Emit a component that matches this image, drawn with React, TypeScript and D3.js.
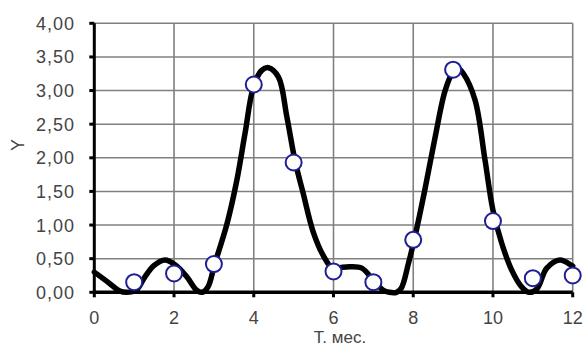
import React from "react";
import * as d3 from "d3";

const xTicks = [0, 2, 4, 6, 8, 10, 12];
const yTicks = [0, 0.5, 1, 1.5, 2, 2.5, 3, 3.5, 4];

const pointX = [1, 2, 3, 4, 5, 6, 7, 8, 9, 10, 11, 12];
const pointY = [0.15, 0.28, 0.42, 3.09, 1.93, 0.31, 0.15, 0.78, 3.31, 1.06, 0.21, 0.25];

const curveX = [0, 0.3, 0.64, 0.8, 1.05, 1.27, 1.5, 1.77, 2.05, 2.32, 2.57, 2.7, 2.85, 3.02, 3.32, 3.57, 3.78, 3.99, 4.2, 4.37, 4.62, 4.83, 5.03, 5.24, 5.49, 5.74, 5.99, 6.2, 6.41, 6.71, 7.0, 7.25, 7.4, 7.58, 7.7, 7.88, 8.04, 8.29, 8.55, 8.8, 9.0, 9.12, 9.26, 9.55, 9.8, 10.0, 10.22, 10.47, 10.72, 10.9, 11.1, 11.35, 11.68, 11.97, 12];
const curveY = [0.3, 0.17, 0.02, 0, 0.03, 0.23, 0.4, 0.48, 0.4, 0.23, 0.03, 0, 0.08, 0.42, 1.0, 1.65, 2.36, 3.05, 3.3, 3.34, 3.2, 2.61, 1.97, 1.47, 0.9, 0.55, 0.35, 0.37, 0.38, 0.36, 0.18, 0.03, 0, 0, 0.06, 0.43, 0.82, 1.52, 2.31, 3.0, 3.28, 3.33, 3.25, 2.86, 1.97, 1.22, 0.73, 0.33, 0.08, 0, 0.05, 0.36, 0.48, 0.4, 0.39];

const fmt = (v: number) => v.toFixed(2).replace(".", ",");

export default function App() {
  const W = 587, H = 346;
  const x = d3.scaleLinear().domain([0, 12]).range([94.3, 572.7]);
  const y = d3.scaleLinear().domain([0, 4]).range([292.3, 23.3]);
  const line = d3
    .line<number>()
    .x((_, i) => x(curveX[i]))
    .y((d) => Math.min(y(d), y(0)))
    .curve(d3.curveCatmullRom.alpha(0.5));
  const font = "'Liberation Sans', Arial, sans-serif";
  return (
    <svg width={W} height={H} style={{ position: "absolute", left: 0, top: 0, background: "#fff" }}>
      {/* grid */}
      {yTicks.map((t) => (
        <line key={"gy" + t} x1={x(0)} x2={x(12)} y1={y(t)} y2={y(t)} stroke="#808080" strokeWidth={1.6} />
      ))}
      {xTicks.map((t) => (
        <line key={"gx" + t} x1={x(t)} x2={x(t)} y1={y(0)} y2={y(4)} stroke="#808080" strokeWidth={1.6} />
      ))}
      {/* axes */}
      <line x1={x(0)} x2={x(0)} y1={y(0)} y2={y(4)} stroke="#000" strokeWidth={3} />
      <line x1={x(0)} x2={x(12)} y1={y(0)} y2={y(0)} stroke="#000" strokeWidth={3.5} />
      {yTicks.map((t) => (
        <line key={"ty" + t} x1={x(0) - 5} x2={x(0)} y1={y(t)} y2={y(t)} stroke="#000" strokeWidth={3} />
      ))}
      {xTicks.map((t) => (
        <line key={"tx" + t} x1={x(t)} x2={x(t)} y1={y(0)} y2={y(0) + 5} stroke="#000" strokeWidth={3} />
      ))}
      {/* tick labels */}
      {yTicks.map((t) => (
        <text key={"ly" + t} x={75} y={y(t)} dy="0.36em" textAnchor="end" fontFamily={font} fontSize={18} fill="#444" letterSpacing={1}>
          {fmt(t)}
        </text>
      ))}
      {xTicks.map((t) => (
        <text key={"lx" + t} x={x(t)} y={318} dy="0.36em" textAnchor="middle" fontFamily={font} fontSize={18} fill="#444">
          {t}
        </text>
      ))}
      <text x={340} y={337} dy="0.36em" textAnchor="middle" fontFamily={font} fontSize={17} fill="#444">
        Т. мес.
      </text>
      <text transform={`translate(18,145) rotate(-90)`} dy="0.36em" textAnchor="middle" fontFamily={font} fontSize={18} fill="#444">
        Y
      </text>
      {/* curve */}
      <path d={line(curveY) || ""} fill="none" stroke="#000" strokeWidth={5.5} strokeLinejoin="round" strokeLinecap="round" />
      {/* markers */}
      {pointX.map((px, i) => (
        <circle key={"p" + i} cx={x(px)} cy={y(pointY[i])} r={8} fill="#fff" stroke="#1e1e96" strokeWidth={2} />
      ))}
    </svg>
  );
}
